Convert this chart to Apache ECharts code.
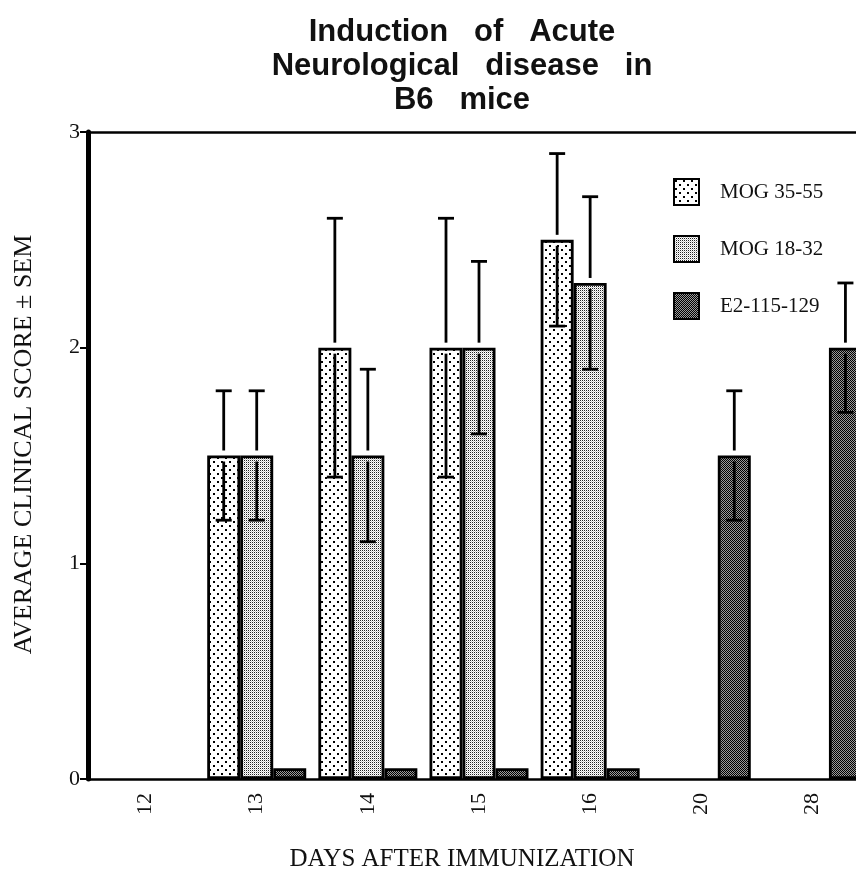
<!DOCTYPE html>
<html>
<head>
<meta charset="utf-8">
<script src="https://cdn.jsdelivr.net/npm/echarts@6/dist/echarts.min.js"></script>
<style>html,body{margin:0;padding:0;background:#fff}#c{width:856px;height:873px}</style>
</head>
<body>
<div id="c"></div>
<script>
// ---- data ----
var days = ['12', '13', '14', '15', '16', '20', '28'];
var seriesNames = ['MOG 35-55', 'MOG 18-32', 'E2-115-129'];
var mog3555 = [null, 1.5, 2.0, 2.0, 2.5, null, null];
var mog3555Err = [null, 0.3, 0.6, 0.6, 0.4, null, null];
var mog1832 = [null, 1.5, 1.5, 2.0, 2.3, null, null];
var mog1832Err = [null, 0.3, 0.4, 0.4, 0.4, null, null];
var e2 = [null, 0.05, 0.05, 0.05, 0.05, 1.5, 2.0];
var e2Err = [null, null, null, null, null, 0.3, 0.3];
var yTicks = [0, 1, 2, 3];

// ---- styles ----
var BAR_W = 33;
function makePattern(size, draw) {
  var cv = document.createElement('canvas');
  cv.width = size; cv.height = size;
  var ctx = cv.getContext('2d');
  ctx.fillStyle = '#fff'; ctx.fillRect(0, 0, size, size);
  draw(ctx);
  return { image: cv, repeat: 'repeat' };
}
var patDots = makePattern(8, function (ctx) {
  ctx.fillStyle = '#000';
  ctx.fillRect(1, 1, 2, 2);
  ctx.fillRect(5, 5, 2, 2);
});
var patLight = makePattern(2, function (ctx) {
  ctx.fillStyle = '#222';
  ctx.fillRect(0, 0, 1, 1);
  ctx.fillStyle = '#c8c8c8';
  ctx.fillRect(1, 1, 1, 1);
});
var patDark = makePattern(2, function (ctx) {
  ctx.fillStyle = '#000';
  ctx.fillRect(0, 0, 1, 1); ctx.fillRect(1, 1, 1, 1);
  ctx.fillStyle = '#9a9a9a';
  ctx.fillRect(1, 0, 1, 1); ctx.fillRect(0, 1, 1, 1);
});
var patterns = [patDots, patLight, patDark];
var values = [mog3555, mog1832, e2];
var errs = [mog3555Err, mog1832Err, e2Err];

var serif = '"Liberation Serif", "DejaVu Serif", serif';

var series = [];
for (var s = 0; s < 3; s++) {
  series.push({
    name: seriesNames[s],
    type: 'bar',
    barWidth: BAR_W,
    barGap: '0%',
    data: values[s],
    itemStyle: { color: patterns[s], borderColor: '#000', borderWidth: 2.8 },
    z: 2
  });
}
for (var s2 = 0; s2 < 3; s2++) {
  var d = [];
  for (var i = 0; i < days.length; i++) {
    if (values[s2][i] != null && errs[s2][i] != null) d.push([i, values[s2][i], errs[s2][i], s2]);
  }
  series.push({
    type: 'custom',
    name: 'err' + s2,
    z: 5,
    silent: true,
    data: d,
    renderItem: function (params, api) {
      var x = api.value(0), y = api.value(1), e = api.value(2), k = api.value(3);
      var top = api.coord([x, y]);
      var hi = api.coord([x, y + e]);
      var lo = api.coord([x, y - e]);
      var cx = top[0] + (k - 1) * BAR_W;
      var cap = 8;
      var st = { stroke: '#000', lineWidth: 2.8 };
      return {
        type: 'group',
        children: [
          { type: 'line', shape: { x1: cx, y1: hi[1], x2: cx, y2: top[1] - 5 }, style: st },
          { type: 'line', shape: { x1: cx - cap, y1: hi[1], x2: cx + cap, y2: hi[1] }, style: st },
          { type: 'line', shape: { x1: cx, y1: top[1] + 6, x2: cx, y2: lo[1] }, style: st },
          { type: 'line', shape: { x1: cx - cap, y1: lo[1], x2: cx + cap, y2: lo[1] }, style: st }
        ]
      };
    }
  });
}

var chart = echarts.init(document.getElementById('c'), null, { renderer: 'canvas' });
chart.setOption({
  backgroundColor: '#fff',
  animation: false,
  title: {
    text: 'Induction   of   Acute\nNeurological   disease   in\nB6   mice',
    left: 462,
    top: 15,
    padding: 0,
    textAlign: 'center',
    textStyle: {
      fontFamily: '"Liberation Sans", Arial, sans-serif',
      fontWeight: 'bold',
      fontSize: 31,
      lineHeight: 34,
      color: '#111'
    }
  },
  legend: {
    data: seriesNames,
    orient: 'vertical',
    left: 668,
    top: 173,
    itemWidth: 25,
    itemHeight: 26,
    itemGap: 29,
    icon: 'rect',
    textStyle: { fontFamily: serif, fontSize: 21, color: '#111', padding: [0, 0, 0, 16] }
  },
  grid: { left: 90, top: 132, width: 778, height: 647, containLabel: false, outerBoundsMode: 'none' },
  xAxis: [{
    type: 'category',
    data: days,
    position: 'bottom',
    axisLine: { lineStyle: { color: '#000', width: 2.5 } },
    axisTick: { alignWithLabel: true, length: 12, lineStyle: { color: '#000', width: 3 } },
    axisLabel: { rotate: 90, margin: 14, fontFamily: serif, fontSize: 22, color: '#111' },
    name: 'DAYS AFTER IMMUNIZATION',
    nameLocation: 'middle',
    nameGap: 68,
    nameTextStyle: { fontFamily: serif, fontSize: 25, color: '#111', padding: [0, 34, 0, 0] }
  }, {
    type: 'category',
    data: days,
    position: 'top',
    axisLine: { lineStyle: { color: '#000', width: 2.5 } },
    axisTick: { show: false },
    axisLabel: { show: false }
  }],
  yAxis: {
    type: 'value',
    min: yTicks[0],
    max: yTicks[yTicks.length - 1],
    interval: 1,
    offset: 2,
    axisLine: { show: true, lineStyle: { color: '#000', width: 5 } },
    axisTick: { show: true, length: 8, lineStyle: { color: '#000', width: 2 } },
    splitLine: { show: false },
    axisLabel: { margin: 8, fontFamily: serif, fontSize: 22, color: '#111' },
    name: 'AVERAGE CLINICAL SCORE ± SEM',
    nameLocation: 'middle',
    nameGap: 51,
    nameTextStyle: { fontFamily: serif, fontSize: 26, color: '#111', padding: [0, 0, 0, 22] }
  },
  series: series
});
</script>
</body>
</html>
